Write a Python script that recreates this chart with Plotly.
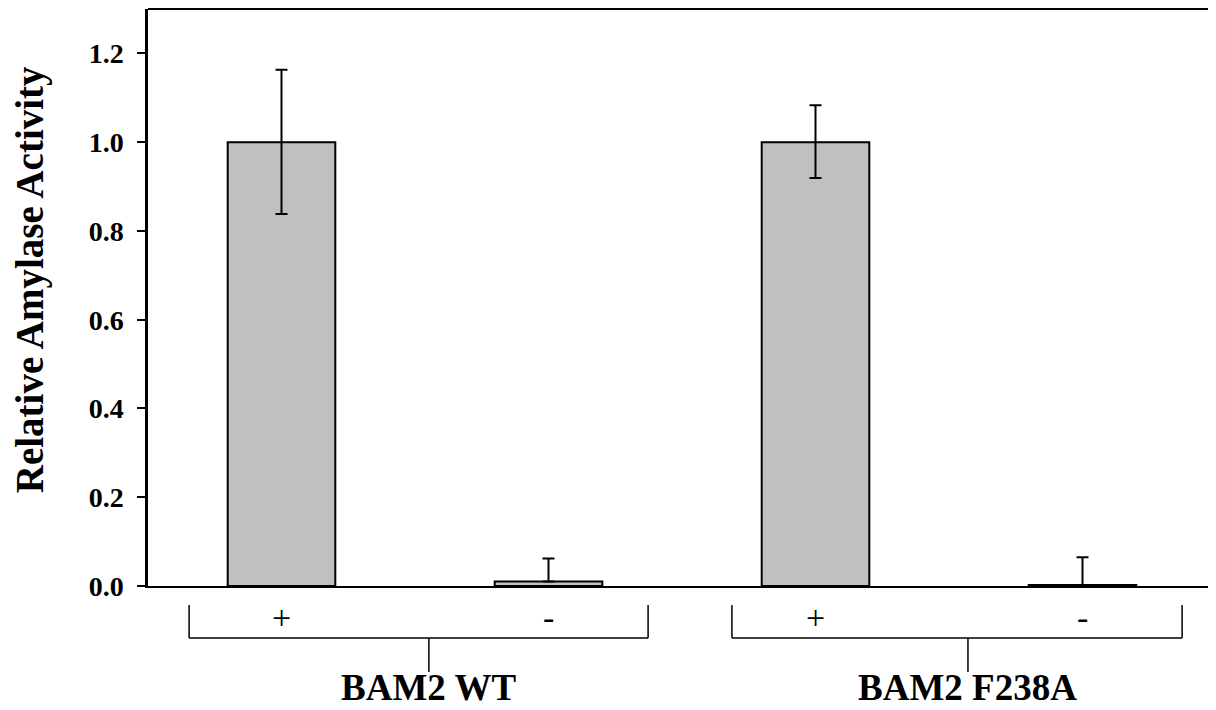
import plotly.graph_objects as go

# Data
categories = ["WT +", "WT -", "F238A +", "F238A -"]
values = [1.0, 0.01, 1.0, 0.002]
err_plus = [0.163, 0.052, 0.083, 0.063]
err_minus = [0.162, 0.0, 0.081, 0.0]
sub_labels = ["+", "-", "+", "-"]
group_labels = ["BAM2 WT", "BAM2 F238A"]
y_ticks = [0.0, 0.2, 0.4, 0.6, 0.8, 1.0, 1.2]

FONT = "Liberation Serif, Times New Roman, serif"
xpos = list(range(len(categories)))

fig = go.Figure()
fig.add_trace(go.Bar(
    x=xpos, y=values, width=0.403,
    marker=dict(color="#c0c0c0", line=dict(color="black", width=2)),
    error_y=dict(type="data", symmetric=False, array=err_plus, arrayminus=err_minus,
                 color="black", thickness=2, width=6),
    showlegend=False,
))

H_PLOT = 577.0
def py(pix):  # pixel offset below the zero line -> paper coordinate
    return -pix / H_PLOT

shapes = []
shapes.append(dict(type="line", xref="paper", yref="paper", x0=0, x1=1, y0=1, y1=1,
                   line=dict(color="black", width=2)))
groups = [(-0.346, 1.373, 0.552), (1.687, 3.373, 2.571)]
for (l, r, s) in groups:
    for x in (l, r):
        shapes.append(dict(type="line", xref="x", yref="paper", x0=x, x1=x,
                           y0=py(19), y1=py(52), line=dict(color="black", width=1.5)))
    shapes.append(dict(type="line", xref="x", yref="paper", x0=l, x1=r,
                       y0=py(52), y1=py(52), line=dict(color="black", width=1.5)))
    shapes.append(dict(type="line", xref="x", yref="paper", x0=s, x1=s,
                       y0=py(52), y1=py(86), line=dict(color="black", width=1.5)))

annotations = []
for x, t in zip(xpos, sub_labels):
    annotations.append(dict(x=x, y=py(31), xref="x", yref="paper", text=t,
                            showarrow=False, font=dict(family=FONT, size=34, color="black"),
                            xanchor="center", yanchor="middle"))
for (l, r, s), g in zip(groups, group_labels):
    annotations.append(dict(x=s, y=py(101), xref="x", yref="paper", text=g,
                            showarrow=False, borderpad=0,
                            font=dict(family=FONT, size=37, color="black", weight="bold"),
                            xanchor="center", yanchor="middle"))
annotations.append(dict(x=-118 / 1068, y=0.53, xref="paper", yref="paper",
                        text="Relative Amylase Activity", textangle=-90, showarrow=False,
                        font=dict(family=FONT, size=39, color="black", weight="bold"),
                        xanchor="center", yanchor="middle"))

fig.update_layout(
    width=1208, height=702,
    margin=dict(l=140, r=0, t=1, b=124),
    plot_bgcolor="white", paper_bgcolor="white",
    shapes=shapes, annotations=annotations,
    xaxis=dict(range=[-0.5, 3.5], showticklabels=False, ticks="", showgrid=False,
               zeroline=False, showline=True, linecolor="black", linewidth=1.5),
    yaxis=dict(range=[0, 1.3], tickvals=y_ticks, tickformat=".1f", ticks="outside",
               ticklen=8, tickwidth=2, tickcolor="black", showgrid=False, zeroline=False,
               showline=True, linecolor="black", linewidth=2.5, ticklabelstandoff=8,
               tickfont=dict(family=FONT, size=28, color="black", weight="bold")),
)

fig.write_html("out.html")
